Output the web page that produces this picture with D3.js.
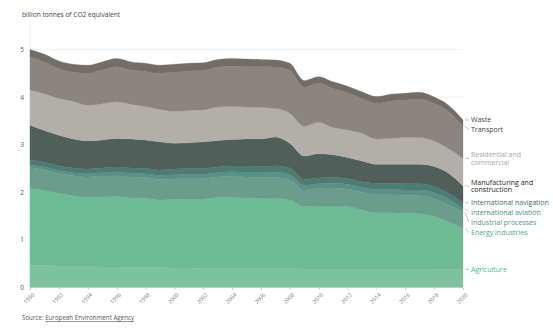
<!DOCTYPE html>
<html><head><meta charset="utf-8">
<script src="https://cdn.jsdelivr.net/npm/d3@7"></script>
<style>
html,body{margin:0;padding:0;background:#fff;}
svg{display:block;font-family:"Open Sans",sans-serif;}
</style></head>
<body><svg id="c" width="553" height="329"></svg>
<script>
const years = d3.range(1990, 2021);
const seriesNames = ["Agriculture","Energy industries","Industrial processes","International aviation","International navigation","Manufacturing and construction","Residential and commercial","Transport","Waste"];
const agriculture   = [0.47,0.46,0.45,0.44,0.44,0.43,0.43,0.42,0.42,0.42,0.41,0.41,0.40,0.40,0.40,0.40,0.40,0.40,0.40,0.39,0.39,0.39,0.39,0.39,0.39,0.39,0.39,0.39,0.39,0.38,0.38];
const energy        = [1.61,1.58,1.53,1.49,1.45,1.47,1.48,1.46,1.45,1.42,1.44,1.45,1.46,1.49,1.49,1.48,1.47,1.47,1.44,1.31,1.32,1.32,1.31,1.24,1.18,1.18,1.17,1.16,1.10,1.00,0.86];
const industrial    = [0.44,0.43,0.42,0.42,0.43,0.44,0.44,0.44,0.44,0.43,0.43,0.43,0.43,0.43,0.44,0.44,0.44,0.44,0.42,0.35,0.37,0.38,0.37,0.37,0.38,0.38,0.38,0.38,0.38,0.36,0.35];
const aviation      = [0.06,0.06,0.06,0.06,0.07,0.07,0.07,0.08,0.08,0.09,0.09,0.09,0.09,0.09,0.10,0.10,0.10,0.11,0.11,0.10,0.10,0.10,0.10,0.10,0.11,0.11,0.11,0.12,0.12,0.12,0.07];
const navigation    = [0.10,0.10,0.10,0.10,0.10,0.10,0.11,0.11,0.11,0.11,0.12,0.12,0.12,0.12,0.12,0.13,0.13,0.14,0.14,0.12,0.12,0.12,0.12,0.12,0.13,0.13,0.13,0.13,0.13,0.12,0.12];
const manufacturing = [0.73,0.67,0.64,0.61,0.59,0.59,0.60,0.61,0.60,0.59,0.54,0.54,0.56,0.56,0.56,0.57,0.58,0.60,0.52,0.49,0.51,0.48,0.44,0.44,0.40,0.40,0.41,0.41,0.42,0.42,0.35];
const residential   = [0.74,0.77,0.77,0.79,0.75,0.76,0.77,0.73,0.70,0.68,0.67,0.68,0.67,0.70,0.69,0.67,0.66,0.60,0.63,0.63,0.66,0.57,0.58,0.58,0.53,0.54,0.56,0.56,0.54,0.52,0.58];
const transport     = [0.69,0.67,0.63,0.61,0.67,0.71,0.74,0.72,0.74,0.76,0.82,0.83,0.83,0.84,0.85,0.85,0.86,0.87,0.90,0.82,0.82,0.82,0.78,0.73,0.75,0.79,0.79,0.81,0.79,0.78,0.68];
const waste         = [0.16,0.16,0.16,0.17,0.17,0.17,0.17,0.17,0.17,0.17,0.17,0.16,0.16,0.16,0.16,0.16,0.15,0.15,0.15,0.14,0.14,0.14,0.14,0.14,0.14,0.14,0.14,0.14,0.13,0.13,0.13];
const yTicks = [0,1,2,3,4,5];
const xTicks = d3.range(1990, 2021, 2);
const labelLines = {
  "Agriculture":["Agriculture"],
  "Energy industries":["Energy industries"],
  "Industrial processes":["Industrial processes"],
  "International aviation":["International aviation"],
  "International navigation":["International navigation"],
  "Manufacturing and construction":["Manufacturing and","construction"],
  "Residential and commercial":["Residential and","commercial"],
  "Transport":["Transport"],
  "Waste":["Waste"]
};
const fills = ["#7dc29f","#6eba97","#6a9d8c","#5b9086","#4d7c75","#505f5a","#b2aea9","#8a8580","#726d69"];
const textColors = ["#4fb68a","#3fae80","#4f9485","#4e887f","#3e6e68","#1e2422","#a9a5a1","#444","#444"];

const valuesBy = [agriculture,energy,industrial,aviation,navigation,manufacturing,residential,transport,waste];
const table = years.map((yr,i)=>{ const o={year:yr}; seriesNames.forEach((k,j)=>o[k]=valuesBy[j][i]); return o; });

const svg = d3.select("#c");
const x = d3.scaleLinear().domain([1990,2020]).range([30,463]);
const y = d3.scaleLinear().domain([0,5]).range([287.5,49.5]);

// gridlines
svg.append("g").selectAll("line").data(yTicks.filter(d=>d>0)).join("line")
  .attr("x1",30).attr("x2",463).attr("y1",d=>y(d)).attr("y2",d=>y(d))
  .attr("stroke","#ececec").attr("stroke-width",0.8);
svg.append("line").attr("x1",30).attr("x2",30).attr("y1",25).attr("y2",291).attr("stroke","#e6e6e6").attr("stroke-width",0.8);

const stack = d3.stack().keys(seriesNames)(table);
const area = d3.area().x(d=>x(d.data.year)).y0(d=>y(d[0])).y1(d=>y(d[1])).curve(d3.curveMonotoneX);
svg.append("g").selectAll("path").data(stack).join("path")
  .attr("d",area).attr("fill",(d,i)=>fills[i]).attr("stroke",(d,i)=>fills[i]).attr("stroke-width",0.3);

// y axis labels
const yAxis = d3.axisLeft(y).tickValues(yTicks).tickSize(0).tickPadding(6).tickFormat(d3.format("d"));
const ya = svg.append("g").attr("transform","translate(30,0)").call(yAxis);
ya.select(".domain").remove();
ya.selectAll("text").attr("font-size",6.5).attr("fill","#555").attr("font-family","Open Sans");

// x axis
const xAxis = d3.axisBottom(x).tickValues(xTicks).tickSize(2).tickFormat(d3.format("d"));
const xa = svg.append("g").attr("transform","translate(0,288)").call(xAxis);
xa.select(".domain").remove();
xa.selectAll("line").attr("stroke","#ccc");
xa.selectAll("text").attr("font-size",5.5).attr("fill","#777").attr("font-family","Open Sans")
  .attr("text-anchor","end").attr("transform","translate(3,6) rotate(-45)").attr("dy","0.35em").attr("y",0).attr("x",0);

// title and source
svg.append("text").attr("x",22).attr("y",17).attr("font-size",6.6).attr("fill","#444").text("billion tonnes of CO2 equivalent");
const src = svg.append("text").attr("x",22).attr("y",320).attr("font-size",6.2).attr("fill","#555");
src.append("tspan").text("Source: ");
src.append("tspan").attr("text-decoration","underline").text("European Environment Agency");

// right labels
const last = years.length-1;
const lineGap = 7.8;
let labels = stack.map((s,i)=>({name:s.key, i, target:y(s[last][1]), lines:labelLines[s.key]}));
labels.forEach(l=>{ l.pos=l.target; l.half = (l.lines.length-1)*lineGap/2 + 4.5; });
labels.sort((a,b)=>a.target-b.target);
for(let k=1;k<labels.length;k++){
  const p=labels[k-1], c=labels[k];
  const minY = p.pos + p.half + c.half + 0.8;
  if(c.pos<minY) c.pos=minY;
}
const lg = svg.append("g");
labels.forEach(l=>{
  lg.append("line").attr("x1",465).attr("y1",l.target).attr("x2",469).attr("y2",l.pos)
    .attr("stroke","#aaa").attr("stroke-width",0.7);
  const t = lg.append("text").attr("x",471).attr("font-size",7).attr("fill",textColors[l.i]);
  const n = l.lines.length;
  l.lines.forEach((ln,j)=>{
    t.append("tspan").attr("x",471).attr("y", l.pos + (j-(n-1)/2)*lineGap).attr("dy","0.35em").text(ln);
  });
});
</script></body></html>
